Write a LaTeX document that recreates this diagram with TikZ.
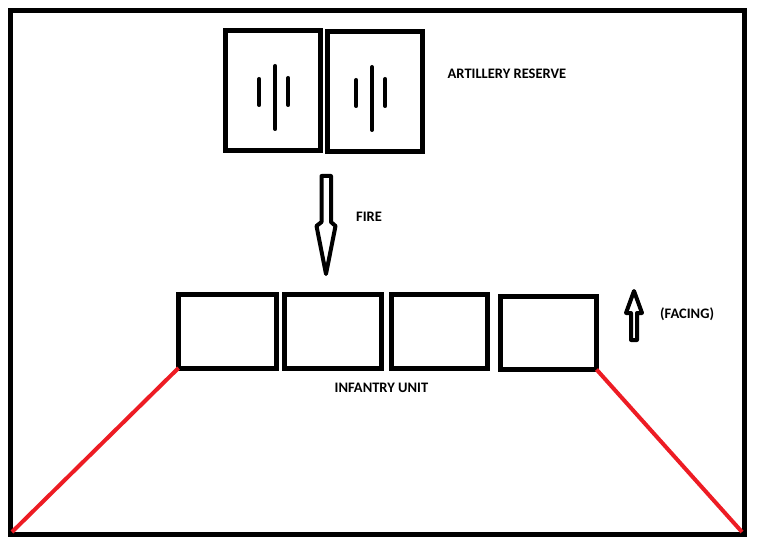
\documentclass[tikz,border=0pt]{standalone}
\usepackage{fontspec}
\setmainfont{Carlito}
\definecolor{paintred}{RGB}{237,28,36}
\tikzset{
  unitbox/.style={draw=black, line width=5pt, rectangle, inner sep=0pt, outer sep=0pt},
  gunmark/.style={draw=black, line width=4pt, line cap=round},
  hollowarrow/.style={draw=black, line width=4pt, line join=round, fill=white},
  flank/.style={draw=paintred, line width=4pt},
  lbl/.style={inner sep=0pt, anchor=base west, font=\bfseries\fontsize{14.5}{16}\selectfont}
}

\begin{document}
\begin{tikzpicture}[x=1pt, y=-1pt]
      \useasboundingbox (0,0) rectangle (757,545);
      \draw[line width=5pt] (10.5,10.5) rectangle (744.5,534.5);
      \coordinate (BL) at (12,532);
      \coordinate (BR) at (742,532);
      %
      \node[unitbox, minimum width=95pt, minimum height=120pt] (A1) at (273,90.5) {};
      \node[unitbox, minimum width=95pt, minimum height=120pt] (A2) at (375,91.5) {};
      \draw[gunmark] (259.3,79) -- (259.3,105);
      \draw[gunmark] (275.3,66) -- (275.3,129);
      \draw[gunmark] (288.3,78) -- (288.3,105);
      \draw[gunmark] (356.3,80) -- (356.3,106);
      \draw[gunmark] (372,67) -- (372,130);
      \draw[gunmark] (385.3,79) -- (385.3,106);
      \node[lbl] (T1) at (447.5,78.3) {ARTILLERY RESERVE};
      %
      \draw[hollowarrow] (321.5,176) -- (331,176) -- (331,222) -- (335.5,226) -- (326,274)
        -- (316.5,226) -- (321.5,222) -- cycle;
      \node[lbl] (T2) at (356,222) {FIRE};
      %
      \node[unitbox, minimum width=98pt, minimum height=73.5pt] (I1) at (227.5,331.25) {};
      \node[unitbox, minimum width=97pt, minimum height=73.5pt] (I2) at (333,331.25) {};
      \node[unitbox, minimum width=96pt, minimum height=73.5pt] (I3) at (439.5,331.25) {};
      \node[unitbox, minimum width=96.5pt, minimum height=73.5pt] (I4) at (548.25,332.75) {};
      \node[lbl] (T3) at (334.5,392.3) {INFANTRY UNIT};
      %
      \draw[hollowarrow] (634,291) -- (642,313) -- (637,313) -- (637,340) -- (631,340)
        -- (631,313) -- (626,313) -- cycle;
      \node[lbl] (T4) at (660,318.7) {(FACING)};
      %
      \draw[flank] (I1.south west) -- (BL);
      \draw[flank] (I4.south east) -- (BR);
    \end{tikzpicture}
\end{document}
